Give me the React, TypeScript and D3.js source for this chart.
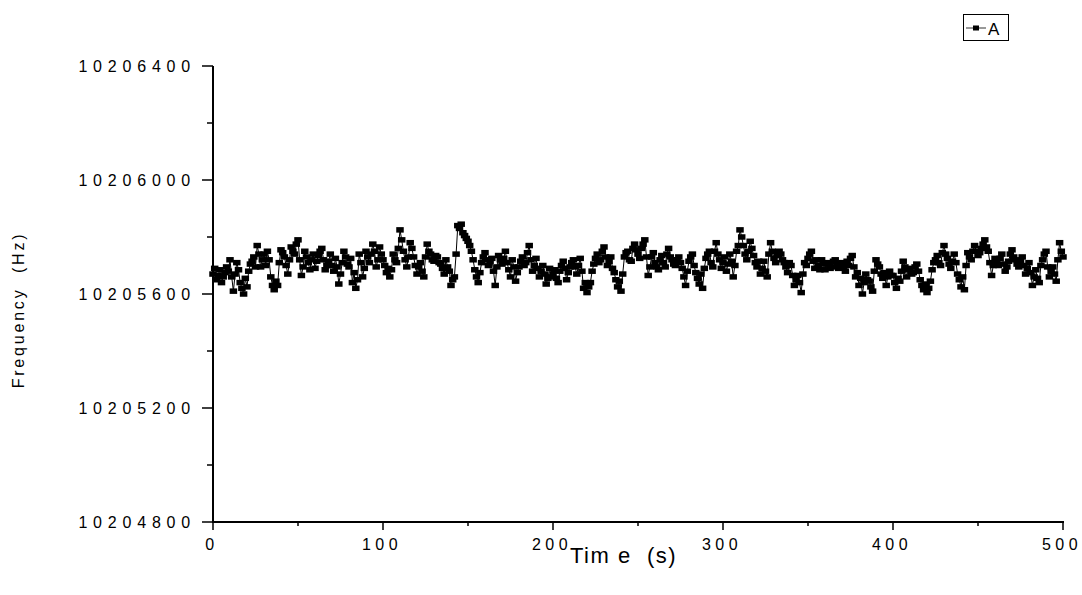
import React, { useEffect, useRef } from 'react'
import * as d3 from 'd3'

// frequency readings, one every second, stored as Hz above the base value
const baseFrequency = 10205600
const sampleStep = 1
const freqOffset = [
  70, 90, 50, 65, 85, 40, 60, 75, 95, 80, 120, 60, 10, 70, 110, 85, 40, 20, 0, 55,
  25, 80, 105, 115, 130, 95, 170, 140, 95, 120, 140, 100, 150, 120, 60, 30, 15, 45, 30, 110,
  155, 145, 130, 100, 70, 120, 165, 150, 140, 175, 190, 120, 65, 95, 150, 130, 110, 85, 120, 140,
  90, 115, 135, 150, 160, 120, 85, 100, 115, 140, 100, 80, 125, 95, 35, 70, 110, 150, 130, 105,
  95, 125, 40, 75, 20, 50, 140, 110, 60, 90, 150, 130, 110, 140, 175, 150, 95, 120, 165, 140,
  120, 100, 75, 90, 60, 85, 140, 120, 110, 160, 225, 190, 150, 120, 95, 130, 180, 160, 130, 100,
  70, 95, 110, 80, 60, 130, 175, 150, 140, 120, 115, 135, 130, 110, 105, 90, 70, 120, 95, 80,
  30, 50, 60, 140, 240, 230, 245, 215, 205, 195, 185, 170, 150, 120, 85, 60, 40, 75, 110, 130,
  145, 120, 100, 115, 125, 80, 30, 95, 135, 120, 105, 125, 150, 110, 85, 60, 120, 95, 45, 75,
  95, 115, 130, 100, 110, 145, 170, 120, 80, 100, 125, 90, 60, 80, 100, 70, 35, 55, 90, 60,
  70, 85, 55, 40, 80, 100, 115, 90, 50, 75, 95, 110, 120, 95, 70, 100, 125, 80, 20, 40,
  5, 25, 40, 80, 105, 125, 140, 110, 120, 150, 165, 130, 100, 115, 130, 90, 75, 50, 25, 45,
  10, 70, 130, 145, 150, 120, 115, 160, 175, 155, 140, 125, 160, 175, 190, 130, 65, 95, 130, 145,
  110, 95, 85, 120, 135, 110, 95, 140, 160, 130, 120, 105, 100, 120, 130, 110, 90, 60, 30, 80,
  115, 130, 140, 100, 75, 55, 35, 70, 20, 90, 125, 140, 150, 110, 95, 150, 180, 140, 120, 90,
  110, 130, 80, 105, 140, 115, 60, 100, 150, 170, 225, 200, 170, 140, 120, 150, 185, 160, 135, 110,
  95, 115, 70, 90, 115, 80, 60, 140, 180, 150, 125, 110, 135, 150, 140, 120, 110, 95, 75, 110,
  100, 65, 30, 50, 65, 40, 5, 70, 110, 100, 125, 140, 150, 115, 90, 120, 100, 85, 120, 105,
  85, 110, 105, 90, 95, 115, 120, 100, 90, 105, 110, 95, 80, 115, 100, 125, 135, 95, 60, 75,
  30, 55, 0, 40, 70, 50, 45, 25, 10, 80, 120, 105, 95, 70, 55, 75, 30, 60, 80, 65,
  65, 40, 20, 55, 45, 80, 115, 95, 60, 85, 90, 70, 75, 95, 105, 80, 50, 30, 15, 35,
  5, 20, 45, 85, 110, 120, 135, 110, 100, 145, 170, 140, 125, 105, 90, 115, 140, 110, 70, 50,
  25, 60, 15, 100, 145, 130, 120, 150, 170, 150, 135, 145, 160, 175, 190, 165, 150, 110, 65, 100,
  125, 110, 100, 125, 140, 105, 80, 95, 115, 140, 155, 130, 120, 105, 95, 115, 130, 100, 70, 90,
  110, 75, 30, 60, 85, 55, 40, 100, 120, 140, 150, 95, 60, 80, 95, 70, 45, 120, 180, 150,
  130,
]

const xTicks = [0, 100, 200, 300, 400, 500]
const xMinorTicks = [50, 150, 250, 350, 450]
const yTicks = [10204800, 10205200, 10205600, 10206000, 10206400]
const yMinorTicks = [10205000, 10205400, 10205800, 10206200]

const font = "'Liberation Sans', Arial, sans-serif"

const App = () => {
  const ref = useRef(null)

  useEffect(() => {
    const svg = d3.select(ref.current)
    svg.selectAll('*').remove()

    const x = d3.scaleLinear().domain([0, 500]).range([213, 1063])
    const y = d3.scaleLinear().domain([10204800, 10206400]).range([522, 66])

    const data = freqOffset.map((d, i) => ({ t: i * sampleStep, f: baseFrequency + d }))

    // axes lines
    svg.append('line')
      .attr('x1', x(0)).attr('x2', x(0))
      .attr('y1', y(10206400)).attr('y2', y(10204800))
      .attr('stroke', 'black').attr('stroke-width', 2)
    svg.append('line')
      .attr('x1', x(0) - 1).attr('x2', x(500) + 1)
      .attr('y1', y(10204800)).attr('y2', y(10204800))
      .attr('stroke', 'black').attr('stroke-width', 2)

    // y ticks
    svg.selectAll('.ytick').data(yTicks).enter().append('line')
      .attr('x1', x(0) - 11).attr('x2', x(0))
      .attr('y1', d => y(d)).attr('y2', d => y(d))
      .attr('stroke', 'black').attr('stroke-width', 1.5)
    svg.selectAll('.yminor').data(yMinorTicks).enter().append('line')
      .attr('x1', x(0) - 6).attr('x2', x(0))
      .attr('y1', d => y(d)).attr('y2', d => y(d))
      .attr('stroke', 'black').attr('stroke-width', 1.5)
    svg.selectAll('.ylabel').data(yTicks).enter().append('text')
      .attr('x', 196)
      .attr('y', d => y(d) + 6)
      .attr('text-anchor', 'end')
      .style('font-family', font)
      .style('font-size', '16px')
      .style('letter-spacing', '5.8px')
      .text(d => d)

    // x ticks
    svg.selectAll('.xtick').data(xTicks).enter().append('line')
      .attr('x1', d => x(d)).attr('x2', d => x(d))
      .attr('y1', y(10204800)).attr('y2', y(10204800) + 8)
      .attr('stroke', 'black').attr('stroke-width', 1.5)
    svg.selectAll('.xminor').data(xMinorTicks).enter().append('line')
      .attr('x1', d => x(d)).attr('x2', d => x(d))
      .attr('y1', y(10204800)).attr('y2', y(10204800) + 4)
      .attr('stroke', 'black').attr('stroke-width', 1.5)
    svg.selectAll('.xlabel').data(xTicks).enter().append('text')
      .attr('x', d => x(d) - 1)
      .attr('y', 550)
      .attr('text-anchor', 'middle')
      .style('font-family', font)
      .style('font-size', '16px')
      .style('letter-spacing', '4.4px')
      .text(d => d)

    // titles
    svg.append('text')
      .attr('x', 570).attr('y', 563)
      .style('font-family', font)
      .style('font-size', '22px')
      .style('letter-spacing', '1.5px')
      .attr('xml:space', 'preserve')
      .text('Tim e  (s)')
    svg.append('text')
      .attr('transform', 'translate(24,310) rotate(-90)')
      .attr('text-anchor', 'middle')
      .style('font-family', font)
      .style('font-size', '16px')
      .style('letter-spacing', '2.8px')
      .attr('xml:space', 'preserve')
      .text('Frequency  (Hz)')

    // series line
    const line = d3.line().x(d => x(d.t)).y(d => y(d.f))
    svg.append('path')
      .datum(data)
      .attr('d', line)
      .attr('fill', 'none')
      .attr('stroke', 'black')
      .attr('stroke-width', 1)

    // markers
    svg.selectAll('.pt').data(data).enter().append('rect')
      .attr('x', d => x(d.t) - 3.75)
      .attr('y', d => y(d.f) - 2.75)
      .attr('width', 7.5)
      .attr('height', 5.5)
      .attr('fill', 'black')

    // legend
    svg.append('rect')
      .attr('x', 963.5).attr('y', 14.5)
      .attr('width', 45).attr('height', 26)
      .attr('fill', 'white').attr('stroke', 'black').attr('stroke-width', 1)
    svg.append('line')
      .attr('x1', 966).attr('x2', 986)
      .attr('y1', 28).attr('y2', 28)
      .attr('stroke', '#333').attr('stroke-width', 1)
    svg.append('rect')
      .attr('x', 973).attr('y', 25.5)
      .attr('width', 6).attr('height', 5)
      .attr('fill', 'black')
    svg.append('text')
      .attr('x', 988).attr('y', 35)
      .style('font-family', font)
      .style('font-size', '17px')
      .text('A')
  })

  return (
    <div style={{ position: 'fixed', left: 0, top: 0, background: 'white' }}>
      <svg ref={ref} width={1082} height={595}></svg>
    </div>
  )
}

export default App
